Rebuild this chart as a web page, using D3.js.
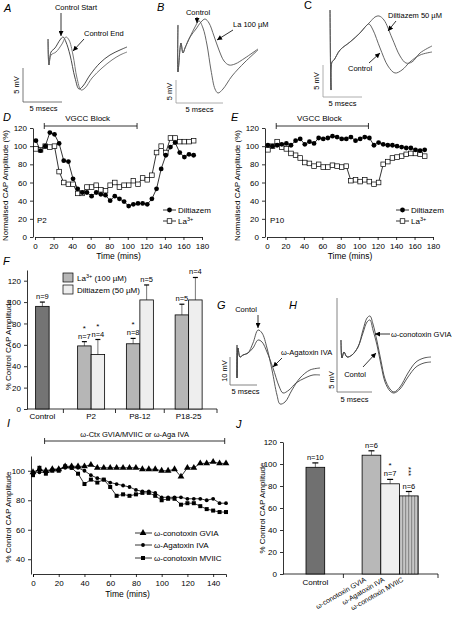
<!DOCTYPE html>
<html><head><meta charset="utf-8">
<script src="https://cdn.jsdelivr.net/npm/d3@7"></script>
<style>body{margin:0;background:#fff}svg{display:block}text{font-family:"Liberation Sans",Arial,Helvetica,sans-serif}</style>
</head><body><script>
// ---------------- DATA ----------------
// Traces (ms, mV) for panels A, B, C, G, H
const traceA_start=[[3.21,9.26],[3.33,5.44],[3.59,7.35],[4.10,7.94],[4.74,9.12],[5.13,9.56],[5.51,8.82],[6.03,6.91],[6.67,3.53],[7.18,1.91],[7.69,2.35],[8.59,3.97],[9.87,5.74],[11.15,6.91],[12.44,7.65],[13.33,8.09]];
const traceA_end=[[3.21,9.26],[3.33,5.44],[3.59,6.91],[4.23,7.35],[5.0,8.53],[5.51,9.56],[5.90,9.12],[6.41,6.91],[6.92,3.53],[7.44,1.76],[7.95,2.06],[8.85,3.53],[10.13,5.0],[11.41,6.18],[12.44,6.91],[13.33,7.35]];
const traceB_start=[[0.21,16.96],[0.21,6.74],[0.53,13.04],[0.74,10.87],[0.96,11.96],[1.49,14.35]];
const traceB_control=[[2.02,16.52],[2.45,17.83],[2.87,16.30],[3.30,12.61],[3.72,7.17],[4.15,3.04],[4.47,2.17],[5.0,3.04],[5.96,5.87],[7.34,8.91],[8.72,11.52]];
const traceB_la=[[2.13,16.09],[2.66,17.61],[3.09,18.26],[3.51,17.39],[4.04,14.57],[4.57,11.52],[5.11,9.13],[5.64,8.26],[6.28,8.48],[7.34,9.78],[8.72,11.74]];
const traceC_start=[[0.90,13.59],[1.03,1.09],[1.15,5.47],[1.41,5.78],[2.18,7.34],[3.46,8.59],[4.74,10.0],[5.51,11.09]];
const traceC_control=[[5.90,11.41],[6.41,10.47],[7.31,7.66],[8.33,4.84],[9.23,3.75],[10.13,4.22],[11.15,5.47],[12.44,6.56],[13.97,7.03]];
const traceC_dilt=[[6.03,11.72],[6.67,12.5],[7.18,12.66],[7.82,12.03],[8.85,9.22],[9.87,6.41],[10.64,5.31],[11.41,5.47],[12.44,6.88],[13.97,7.97]];
const traceG_start=[[1.30,14.29],[1.30,2.5],[1.48,13.21],[1.85,10.0],[2.41,10.71],[3.33,11.43]];
const traceG_control=[[4.26,15.0],[5.19,19.64],[5.93,18.57],[6.85,13.21],[7.78,5.36],[8.70,-3.57],[9.26,-6.79],[10.19,-6.07],[11.48,-1.79],[12.96,2.5],[14.81,5.36],[16.67,6.07]];
const traceG_aga=[[4.26,13.21],[5.19,16.07],[5.93,15.36],[6.85,11.79],[7.96,6.07],[9.07,-0.36],[9.81,-2.86],[10.93,-1.79],[12.22,0.71],[13.89,2.5],[15.37,3.57],[16.67,3.57]];
const traceH_start=[[0.57,13.0],[0.71,8.5],[1.0,10.0],[1.43,8.75],[2.14,9.25],[3.0,11.25]];
const traceH_control=[[3.71,14.75],[4.29,17.5],[4.71,18.0],[5.14,15.5],[5.71,11.75],[6.29,6.75],[6.86,2.5],[7.57,0.25],[8.14,-0.25],[9.0,0.75],[10.14,3.75],[11.29,6.25],[12.43,7.25],[13.43,7.5]];
const traceH_gvia=[[3.71,15.5],[4.29,18.5],[4.71,19.0],[5.14,17.0],[5.71,12.75],[6.29,7.75],[6.86,3.25],[7.57,0.75],[8.14,0.0],[9.0,1.25],[10.14,4.75],[11.29,7.5],[12.43,8.5],[13.43,8.75]];

// Panel D / E time courses (mins, % amplitude)
const timeDE=[1,6,11,16,21,26,31,36,41,46,51,56,61,66,71,76,81,86,91,96,101,106,111,116,121,126,131,136,141,146,151,156,161,166,171];
const diltP2=[106,95,100,115,113,103,84,83,64,53,49,49,45,49,47,46,40,45,42,39,34,36,37,37,36,42,53,75,90,99,104,93,88,91,90];
const laP2=[97,96,100,99,100,72,60,58,58,48,48,55,55,57,52,51,57,60,55,57,57,62,58,65,63,68,93,100,93,109,109,105,105,105,106];
const diltP10=[101,100,101,102,103,101,106,108,102,105,103,109,108,109,111,110,108,108,110,106,108,110,109,101,104,102,101,101,100,99,98,98,96,95,96];
const laP10=[96,100,105,99,97,92,90,87,82,81,78,80,77,77,79,78,77,78,62,63,61,63,61,58,60,80,83,87,88,89,91,92,92,91,89];
const blockDE=[10,110];
const timeTicks=[0,20,40,60,80,100,120,140,160,180];
const pctTicks=[0,20,40,60,80,100,120];

// Panel F bars
const groupsF=["Control","P2","P8-12","P18-25"];
const controlF=[96], controlErrF=[4], controlNF=["n=9"];
const laF=[59,61,88], laErrF=[4,5,10], laNF=["n=7","n=8","n=5"], laStarF=["*","*",""];
const diltF=[51,102,102], diltErrF=[14,14,21], diltNF=["n=4","n=5","n=4"], diltStarF=["*","",""];

// Panel I time courses
const timeI=[0,5,10,15,20,25,30,35,40,45,50,55,60,65,70,75,80,85,90,95,100,105,110,115,120,125,130,135,140,145,150];
const gvia=[99,101,100,101,101,103,103,103,103,104,102,102,102,102,102,102,102,101,101,101,100,100,101,96,102,102,105,105,106,105,105];
const aga=[99,99,99,101,101,102,102,102,100,97,95,94,92,91,90,89,87,86,86,85,82,82,82,82,81,81,81,80,81,78,78];
const mviic=[97,102,98,100,100,103,102,98,91,94,92,94,89,83,84,83,84,85,85,83,80,81,81,77,78,78,76,74,73,72,72];
const blockI=[9,149];
const timeTicksI=[0,20,40,60,80,100,120,140];
const pctTicksI=[40,60,80,100];

// Panel J bars
const catsJ=["Control","ω-conotoxin GVIA","ω-Agatoxin IVA","ω-conotoxin MVIIC"];
const valJ=[97,108,82,71], errJ=[4,4,4,4], nJ=["n=10","n=6","n=7","n=6"], starJ=["","","*","***"];
const pctTicksJ=[0,20,40,60,80,100,120];

// ---------------- DRAW ----------------
const FONT='"Liberation Sans",Arial,Helvetica,sans-serif';
const svg=d3.select("body").append("svg").attr("width",454).attr("height",617);
svg.append("rect").attr("width",454).attr("height",617).attr("fill","#fff");
const defs=svg.append("defs");
defs.append("marker").attr("id","arr").attr("viewBox","0 0 10 10").attr("refX",10).attr("refY",5)
  .attr("markerUnits","userSpaceOnUse").attr("markerWidth",6).attr("markerHeight",5).attr("orient","auto")
  .append("path").attr("d","M0,0L10,5L0,10z").attr("fill","#000");
const pat=defs.append("pattern").attr("id","stripe").attr("patternUnits","userSpaceOnUse").attr("width",3).attr("height",4);
pat.append("rect").attr("width",3).attr("height",4).attr("fill","#c6c6c6");
pat.append("rect").attr("width",1.2).attr("height",4).attr("fill","#8c8c8c");

function T(x,y,s,o={}){
  const t=svg.append("text").attr("x",x).attr("y",y).attr("font-size",o.size||8)
    .attr("text-anchor",o.anchor||"start").attr("fill","#000");
  if(o.italic)t.attr("font-style","italic");
  if(o.rot!=null)t.attr("transform",`rotate(${o.rot},${x},${y})`);
  t.text(s);return t;
}
function ln(x1,y1,x2,y2,o={}){
  const l=svg.append("line").attr("x1",x1).attr("y1",y1).attr("x2",x2).attr("y2",y2)
    .attr("stroke",o.color||"#000").attr("stroke-width",o.w||0.8);
  if(o.arrow)l.attr("marker-end","url(#arr)");
  return l;
}
function styleAxis(g){
  g.selectAll("text").attr("font-size",8).attr("font-family",FONT).attr("fill","#000");
  g.selectAll("line,path").attr("stroke","#000").attr("stroke-width",0.8);
}
const curve=d3.curveCatmullRom.alpha(0.5);
function trace(x,y,pts,color){
  svg.append("path").datum(pts).attr("fill","none").attr("stroke",color||"#444").attr("stroke-width",0.9)
    .attr("d",d3.line().x(d=>x(d[0])).y(d=>y(d[1])).curve(curve));
}
function scaleBar(x,y,dx,dy,color){
  ln(x(0),y(0),x(0),y(dy),{color:color||"#666"});
  ln(x(0),y(0),x(dx),y(0),{color:color||"#666"});
}
const AN=7.5; // annotation font size

// ----- Panel A -----
T(4,12,"A",{size:11,italic:true});
{
  const x=d3.scaleLinear().domain([0,5]).range([23,62]);
  const y=d3.scaleLinear().domain([0,5]).range([102,68]);
  trace(x,y,traceA_start,"#333");
  trace(x,y,traceA_end,"#666");
  scaleBar(x,y,5,5,"#555");
  T(x(0)-4,(y(0)+y(5))/2,"5 mV",{anchor:"middle",rot:-90,size:AN});
  T((x(0)+x(5))/2+1,y(0)+9,"5 msecs",{anchor:"middle",size:AN});
  T(76,10,"Control Start",{anchor:"middle",size:AN});
  ln(61,13,61,36,{arrow:true});
  T(84,36,"Control End",{size:AN});
  ln(84,39,73,51,{arrow:true});
}
// ----- Panel B -----
T(157,11,"B",{size:11,italic:true});
{
  const x=d3.scaleLinear().domain([0,5]).range([176,223]);
  const y=d3.scaleLinear().domain([0,5]).range([103,80]);
  trace(x,y,traceB_start.concat(traceB_control),"#555");
  trace(x,y,traceB_start.concat(traceB_la),"#555");
  scaleBar(x,y,5,5,"#999");
  T(x(0)-4,(y(0)+y(5))/2,"5 mV",{anchor:"middle",rot:-90,size:AN});
  T((x(0)+x(5))/2,y(0)+9,"5 msecs",{anchor:"middle",size:AN});
  T(198,15,"Control",{anchor:"middle",size:AN});
  ln(197,17,197,23,{arrow:true});
  T(233,27,"La 100 µM",{size:AN});
  ln(233,30,217,40,{arrow:true});
}
// ----- Panel C -----
T(304,9,"C",{size:11});
{
  const x=d3.scaleLinear().domain([0,5]).range([323,362]);
  const y=d3.scaleLinear().domain([0,5]).range([97,65]);
  trace(x,y,traceC_start.concat(traceC_control),"#555");
  trace(x,y,traceC_start.concat(traceC_dilt),"#555");
  scaleBar(x,y,5,5,"#999");
  T(x(0)-4,(y(0)+y(5))/2,"5 mV",{anchor:"middle",rot:-90,size:AN});
  T((x(0)+x(5))/2,y(0)+9,"5 msecs",{anchor:"middle",size:AN});
  T(388,18,"Diltiazem 50 µM",{size:AN});
  ln(396,21,388,31,{arrow:true});
  T(348,71,"Control",{size:AN});
  ln(369,63,380,53,{arrow:true});
}

// ----- Time course panels D & E -----
function timePanel(x,y,tm,sA,sB,label,px,legendX){
  svg.append("g").attr("transform",`translate(0,${y(0)})`)
    .call(d3.axisBottom(x).tickValues(timeTicks).tickSize(3).tickSizeOuter(0)).call(styleAxis);
  svg.append("g").attr("transform",`translate(${x(0)-2},0)`)
    .call(d3.axisLeft(y).tickValues(pctTicks).tickSize(3).tickSizeOuter(0)).call(styleAxis);
  ln(x(blockDE[0]),126,x(blockDE[1]),126);
  ln(x(blockDE[0]),123,x(blockDE[0]),129);
  ln(x(blockDE[1]),123,x(blockDE[1]),129);
  T((x(blockDE[0])+x(blockDE[1]))/2-3,121,"VGCC Block",{anchor:"middle",size:AN+0.5});
  const lg=d3.line().x((d,i)=>x(tm[i])).y(d=>y(d));
  svg.append("path").datum(sA).attr("fill","none").attr("stroke","#000").attr("stroke-width",0.8).attr("d",lg);
  svg.append("path").datum(sB).attr("fill","none").attr("stroke","#000").attr("stroke-width",0.8).attr("d",lg);
  svg.append("g").selectAll("rect").data(sB).join("rect")
    .attr("x",(d,i)=>x(tm[i])-2.3).attr("y",d=>y(d)-2.3).attr("width",4.6).attr("height",4.6)
    .attr("fill","#fff").attr("stroke","#000").attr("stroke-width",0.7);
  svg.append("g").selectAll("circle").data(sA).join("circle")
    .attr("cx",(d,i)=>x(tm[i])).attr("cy",d=>y(d)).attr("r",2.4).attr("fill","#000");
  T(px,223,label,{size:AN+0.5});
  ln(legendX,210,legendX+13,210);
  svg.append("circle").attr("cx",legendX+6.5).attr("cy",210).attr("r",2.4).attr("fill","#000");
  T(legendX+15,213,"Diltiazem",{size:AN+0.5});
  ln(legendX,221,legendX+13,221);
  svg.append("rect").attr("x",legendX+4.2).attr("y",218.7).attr("width",4.6).attr("height",4.6).attr("fill","#fff").attr("stroke","#000").attr("stroke-width",0.7);
  const t=T(legendX+15,224,"La",{size:AN+0.5});
  t.append("tspan").attr("font-size",5.5).attr("dy",-3.5).text("3+");
  T((x(0)+x(180))/2,259,"Time (mins)",{anchor:"middle",size:8.5});
  T(x(0)-27,(y(0)+y(120))/2+3,"Normalised CAP Amplitude (%)",{anchor:"middle",rot:-90,size:8});
}
T(3,121,"D",{size:11,italic:true});
timePanel(d3.scaleLinear().domain([0,180]).range([35,202]),d3.scaleLinear().domain([0,120]).range([237,128]),
  timeDE,diltP2,laP2,"P2",37,163);
T(231,121,"E",{size:11,italic:true});
timePanel(d3.scaleLinear().domain([0,180]).range([267,433]),d3.scaleLinear().domain([0,120]).range([237,128]),
  timeDE,diltP10,laP10,"P10",270,396);

// ----- Panel F -----
T(3,265,"F",{size:11,italic:true});
{
  const y=d3.scaleLinear().domain([0,130]).range([409,270]);
  const x=d3.scaleBand().domain(groupsF).range([18,213]);
  const bw=13.5;
  const cen=g=>x(g)+x.bandwidth()/2;
  const half=g=>g==="Control"?bw/2:bw;
  svg.append("g").attr("transform",`translate(27,0)`)
    .call(d3.axisLeft(y).tickValues(pctTicks).tickSize(3).tickSizeOuter(0)).call(styleAxis);
  ln(27,y(0),217,y(0));
  groupsF.forEach((g,i)=>{
    const tx=i<groupsF.length-1?((cen(g)+half(g))+(cen(groupsF[i+1])-half(groupsF[i+1])))/2:217;
    ln(tx,y(0),tx,y(0)+4);
  });
  groupsF.forEach(g=>T(cen(g),y(0)+10,g,{anchor:"middle",size:8}));
  function bar(cx,v,e,fill,n,star){
    ln(cx,y(v),cx,y(v+e),{color:"#555"});
    ln(cx-2.5,y(v+e),cx+2.5,y(v+e),{w:1.2});
    svg.append("rect").attr("x",cx-bw/2).attr("y",y(v)).attr("width",bw).attr("height",y(0)-y(v))
      .attr("fill",fill).attr("stroke","#000").attr("stroke-width",0.8);
    T(cx,y(v+e)-3,n,{anchor:"middle",size:7.5});
    if(star)T(cx,y(v+e)-11,star,{anchor:"middle",size:8});
  }
  bar(cen("Control"),controlF[0],controlErrF[0],"#747474",controlNF[0],"");
  groupsF.slice(1).forEach((g,i)=>{
    const c=cen(g);
    bar(c-bw/2,laF[i],laErrF[i],"#b6b6b6",laNF[i],laStarF[i]);
    bar(c+bw/2,diltF[i],diltErrF[i],"#eeeeee",diltNF[i],diltStarF[i]);
  });
  svg.append("rect").attr("x",63).attr("y",273).attr("width",10).attr("height",9).attr("fill","#b6b6b6").attr("stroke","#000").attr("stroke-width",0.7);
  const t=T(77,281,"La",{size:AN+0.5});
  t.append("tspan").attr("font-size",5.5).attr("dy",-3.5).text("3+");
  t.append("tspan").attr("dy",3.5).text(" (100 µM)");
  svg.append("rect").attr("x",63).attr("y",285).attr("width",10).attr("height",9).attr("fill","#eeeeee").attr("stroke","#000").attr("stroke-width",0.7);
  T(77,293,"Diltiazem (50 µM)",{size:AN+0.5});
  T(11,(y(0)+y(120))/2,"% Control CAP Amplitude",{anchor:"middle",rot:-90,size:8});
}

// ----- Panel G -----
T(217,309,"G",{size:11,italic:true});
{
  const x=d3.scaleLinear().domain([0,5]).range([230,257]);
  const y=d3.scaleLinear().domain([0,10]).range([385,357]);
  trace(x,y,traceG_start.concat(traceG_control),"#444");
  trace(x,y,traceG_start.concat(traceG_aga),"#444");
  scaleBar(x,y,5,10,"#666");
  T(x(0)-3,(y(0)+y(10))/2,"10 mV",{anchor:"middle",rot:-90,size:AN});
  T((x(0)+x(5))/2+2,y(0)+9,"5 msecs",{anchor:"middle",size:AN});
  T(246,312,"Contol",{anchor:"middle",size:AN});
  ln(258,315,258,328,{arrow:true});
  T(281,355,"ω-Agatoxin IVA",{size:AN});
  ln(282,358,273,367,{arrow:true});
}
// ----- Panel H -----
T(289,309,"H",{size:11,italic:true});
{
  const x=d3.scaleLinear().domain([0,5]).range([337,372]);
  const y=d3.scaleLinear().domain([0,5]).range([392,372]);
  trace(x,y,traceH_start.concat(traceH_control),"#444");
  trace(x,y,traceH_start.concat(traceH_gvia),"#444");
  ln(x(0),y(0),x(0),298,{color:"#666"});
  ln(x(0),y(0),x(5),y(0),{color:"#666"});
  T(x(0)-3,(y(0)+y(5))/2-2,"5 mV",{anchor:"middle",rot:-90,size:AN});
  T((x(0)+x(5))/2,y(0)+10,"5 msecs",{anchor:"middle",size:AN});
  T(391,337,"ω-conotoxin GVIA",{size:AN});
  ln(390,334,375,334,{arrow:true});
  T(355,377,"Contol",{anchor:"middle",size:AN});
  ln(363,367,376,353,{arrow:true});
}

// ----- Panel I -----
T(7,427,"I",{size:11,italic:true});
{
  const x=d3.scaleLinear().domain([0,150]).range([33,226]);
  const y=d3.scaleLinear().domain([30,110]).range([574,456]);
  svg.append("g").attr("transform",`translate(0,${y(30)})`)
    .call(d3.axisBottom(x).tickValues(timeTicksI).tickSize(3).tickSizeOuter(3)).call(styleAxis);
  svg.append("g").attr("transform",`translate(${x(0)-2},0)`)
    .call(d3.axisLeft(y).tickValues(pctTicksI).tickSize(3).tickSizeOuter(0)).call(styleAxis);
  ln(x(blockI[0]),441,x(blockI[1]),441);
  ln(x(blockI[0]),438,x(blockI[0]),444);
  ln(x(blockI[1]),438,x(blockI[1]),444);
  T((x(blockI[0])+x(blockI[1]))/2,437,"ω-Ctx GVIA/MVIIC or ω-Aga IVA",{anchor:"middle",size:AN});
  const lg=d3.line().x((d,i)=>x(timeI[i])).y(d=>y(d));
  [gvia,aga,mviic].forEach(s=>svg.append("path").datum(s).attr("fill","none").attr("stroke","#000").attr("stroke-width",0.8).attr("d",lg));
  const tri=d3.symbol().type(d3.symbolTriangle).size(20);
  svg.append("g").selectAll("path").data(gvia).join("path").attr("d",tri)
    .attr("transform",(d,i)=>`translate(${x(timeI[i])},${y(d)})`).attr("fill","#000");
  svg.append("g").selectAll("circle").data(aga).join("circle")
    .attr("cx",(d,i)=>x(timeI[i])).attr("cy",d=>y(d)).attr("r",1.9).attr("fill","#000");
  svg.append("g").selectAll("rect").data(mviic).join("rect")
    .attr("x",(d,i)=>x(timeI[i])-2).attr("y",d=>y(d)-2).attr("width",4).attr("height",4).attr("fill","#000");
  const lx=135;
  ln(lx,533,lx+17,533); svg.append("path").attr("d",tri).attr("transform",`translate(${lx+8},533)`).attr("fill","#000");
  T(lx+19,536,"ω-conotoxin GVIA",{size:AN+0.5});
  ln(lx,545,lx+17,545); svg.append("circle").attr("cx",lx+8).attr("cy",545).attr("r",1.9).attr("fill","#000");
  T(lx+19,548,"ω-Agatoxin IVA",{size:AN+0.5});
  ln(lx,558,lx+17,558); svg.append("rect").attr("x",lx+6).attr("y",556).attr("width",4).attr("height",4).attr("fill","#000");
  T(lx+19,561,"ω-conotoxin MVIIC",{size:AN+0.5});
  T((x(0)+x(150))/2-2,597,"Time (mins)",{anchor:"middle",size:8.5});
  T(11,(y(30)+y(110))/2+2,"% Control CAP Amplitude",{anchor:"middle",rot:-90,size:8});
}

// ----- Panel J -----
T(236,428,"J",{size:11,italic:true});
{
  const y=d3.scaleLinear().domain([0,120]).range([574,442]);
  const slots=[catsJ[0],"gap1","gap2",catsJ[1],catsJ[2],catsJ[3]];
  const x=d3.scaleBand().domain(slots).range([306,418.2]);
  svg.append("g").attr("transform",`translate(283,0)`)
    .call(d3.axisLeft(y).tickValues(pctTicksJ).tickSize(3).tickSizeOuter(0)).call(styleAxis);
  ln(283,y(0),438,y(0));
  ln(x("gap2"),y(0),x("gap2"),y(0)+4);
  ln(438,y(0),438,y(0)+4);
  const fills=["#707070","#b8b8b8","#efefef","url(#stripe)"];
  catsJ.forEach((c,i)=>{
    const cx=x(c)+x.bandwidth()/2, v=valJ[i], e=errJ[i];
    ln(cx,y(v),cx,y(v+e),{color:"#555"});
    ln(cx-3,y(v+e),cx+3,y(v+e),{w:1.2});
    svg.append("rect").attr("x",x(c)).attr("y",y(v)).attr("width",x.bandwidth()).attr("height",y(0)-y(v))
      .attr("fill",fills[i]).attr("stroke","#000").attr("stroke-width",0.8);
    T(cx,y(v+e)-3,nJ[i],{anchor:"middle",size:7.5});
    if(starJ[i].length===1)T(cx,y(v+e)-11,starJ[i],{anchor:"middle",size:8});
    else if(starJ[i].length>1){
      const sy=y(v+e)-20;
      T(cx-2.5,sy,starJ[i],{anchor:"middle",rot:90,size:8});
    }
    if(i===0)T(cx,585,c,{anchor:"middle",size:8});
    else T(cx-5,581,c,{anchor:"end",rot:-30,size:7});
  });
  T(265,(y(0)+y(120))/2,"% Control CAP Amplitude",{anchor:"middle",rot:-90,size:8});
}
</script></body></html>
